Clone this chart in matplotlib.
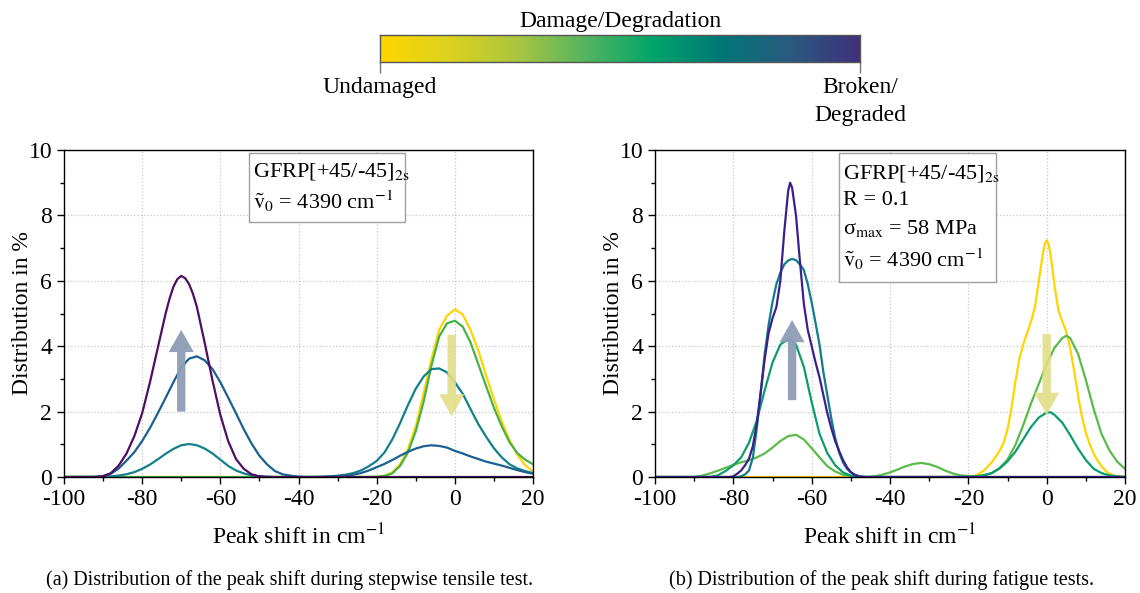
import numpy as np
import matplotlib
matplotlib.use('Agg')
import matplotlib.pyplot as plt
from matplotlib.colors import LinearSegmentedColormap
from matplotlib.patches import Rectangle

plt.rcParams['font.family'] = ['Liberation Serif', 'DejaVu Serif']
plt.rcParams['mathtext.fontset'] = 'stix'
plt.rcParams['axes.unicode_minus'] = False

# ---- (a) stepwise tensile test ----
a_yellow_x = [-100, -22, -20, -18, -16, -14, -12, -10, -8, -6, -4, -2, 0, 2, 4, 6, 8, 10, 12, 14, 16, 18, 20]
a_yellow_y = [0, 0, 0.01, 0.04, 0.14, 0.39, 0.85, 1.55, 2.55, 3.6, 4.5, 4.93, 5.13, 4.97, 4.5, 3.87, 3.1, 2.38, 1.7, 1.13, 0.68, 0.36, 0.17]

a_green_x = [-100, -22, -20, -18, -16, -14, -12, -10, -8, -6, -4, -2, 0, 2, 4, 6, 8, 10, 12, 14, 16, 18, 20]
a_green_y = [0, 0, 0.005, 0.03, 0.11, 0.34, 0.75, 1.4, 2.3, 3.4, 4.3, 4.7, 4.78, 4.6, 4.12, 3.45, 2.78, 2.12, 1.55, 1.06, 0.73, 0.53, 0.39]

a_teal_x = [-100, -90, -88, -86, -84, -82, -80, -78, -76, -74, -72, -70, -68, -66, -64, -62, -60, -58, -56, -54,
            -52, -50, -48, -46, -36, -34, -32, -30, -28, -26, -24, -22, -20, -18, -16, -14, -12, -10, -8, -6,
            -4, -2, 0, 2, 4, 6, 8, 10, 12, 14, 16, 18, 20]
a_teal_y = [0, 0.01, 0.02, 0.045, 0.085, 0.15, 0.25, 0.38, 0.54, 0.71, 0.86, 0.97, 1.01, 0.97, 0.87, 0.72, 0.53, 0.34, 0.2, 0.11,
            0.05, 0.02, 0.01, 0, 0, 0.01, 0.02, 0.04, 0.07, 0.12, 0.2, 0.33, 0.49, 0.75, 1.15, 1.65, 2.2, 2.7, 3.07, 3.3,
            3.32, 3.2, 2.9, 2.55, 2.08, 1.62, 1.23, 0.88, 0.6, 0.39, 0.26, 0.18, 0.12]

a_blue_x = [-100, -92, -90, -88, -86, -84, -82, -80, -78, -76, -74, -72, -70, -68, -66, -64, -62, -60, -58, -56,
            -54, -52, -50, -48, -46, -44, -42, -40, -38, -34, -32, -30, -28, -26, -24, -22, -20, -18, -16, -14,
            -12, -10, -8, -6, -4, -2, 0, 2, 4, 6, 8, 10, 12, 14, 16, 18, 20]
a_blue_y = [0, 0, 0.03, 0.1, 0.26, 0.5, 0.76, 1.1, 1.5, 1.95, 2.42, 2.9, 3.35, 3.62, 3.69, 3.57, 3.3, 2.9, 2.43, 1.95,
            1.46, 1.02, 0.65, 0.38, 0.18, 0.08, 0.04, 0.01, 0, 0, 0.01, 0.02, 0.04, 0.07, 0.12, 0.2, 0.3, 0.4, 0.52, 0.65,
            0.77, 0.87, 0.94, 0.97, 0.95, 0.9, 0.8, 0.72, 0.63, 0.55, 0.47, 0.41, 0.35, 0.28, 0.21, 0.15, 0.1]

a_purple_x = [-100, -92, -90, -88, -86, -84, -82, -80, -78, -76, -74, -73, -72, -71, -70, -69, -68, -67, -66, -64,
              -62, -60, -58, -56, -54, -52, -50, -48, 20]
a_purple_y = [0, 0, 0.02, 0.12, 0.35, 0.72, 1.25, 1.95, 2.9, 3.95, 5.0, 5.45, 5.82, 6.05, 6.15, 6.08, 5.9, 5.6, 5.2, 4.1,
              2.95, 1.9, 1.1, 0.55, 0.25, 0.08, 0.02, 0, 0]

# ---- (b) fatigue tests ----
b_yellow_x = [-100, -20, -18, -16, -14, -12, -11, -10, -9, -8, -7, -6, -5, -4, -3, -2, -1, -0.5, 0, 0.5, 1, 2, 3, 4,
              5, 6, 7, 8, 9, 10, 11, 12, 13, 14, 15, 16, 17, 18, 20]
b_yellow_y = [0, 0, 0.05, 0.2, 0.45, 0.8, 1.05, 1.45, 2.1, 2.9, 3.6, 4.05, 4.4, 4.75, 5.2, 6.0, 6.8, 7.12, 7.24, 7.12, 6.8, 5.85, 5.1, 4.75,
              4.45, 3.95, 3.25, 2.5, 1.85, 1.35, 1.0, 0.72, 0.5, 0.33, 0.2, 0.1, 0.05, 0.02, 0]

b_lgreen_x = [-100, -90, -88, -86, -84, -82, -80, -78, -76, -74, -72, -70, -68, -66, -64, -62, -60, -58, -56, -54,
              -52, -50, -48, -46, -44, -42, -40, -38, -36, -34, -32, -30, -28, -26, -24, -22, -20, -18, -16, -14,
              -12, -10, -8, -6, -4, -2, 0, 2, 4, 5, 6, 8, 10, 12, 14, 16, 18, 20]
b_lgreen_y = [0, 0, 0.04, 0.11, 0.19, 0.28, 0.37, 0.45, 0.51, 0.6, 0.72, 0.9, 1.1, 1.25, 1.29, 1.15, 0.88, 0.6, 0.33, 0.17,
              0.07, 0.03, 0.01, 0, 0.02, 0.07, 0.14, 0.23, 0.33, 0.4, 0.43, 0.39, 0.31, 0.2, 0.11, 0.05, 0.03, 0.02, 0.04, 0.12,
              0.28, 0.53, 0.98, 1.58, 2.25, 2.85, 3.46, 3.95, 4.25, 4.32, 4.25, 3.77, 2.97, 2.08, 1.32, 0.82, 0.47, 0.25]

b_green_x = [-100, -86, -84, -82, -80, -78, -76, -74, -72, -70, -68, -66, -64, -62, -60, -58, -56, -54, -52, -50,
             -48, -20, -18, -16, -14, -12, -10, -8, -6, -4, -2, 0, 1, 2, 4, 6, 8, 10, 12, 14, 16, 18, 20]
b_green_y = [0, 0, 0.05, 0.18, 0.36, 0.6, 1.05, 1.73, 2.65, 3.5, 4.05, 4.22, 4.05, 3.37, 2.29, 1.32, 0.73, 0.36, 0.14, 0.04,
             0, 0, 0.02, 0.06, 0.12, 0.26, 0.48, 0.77, 1.15, 1.53, 1.82, 1.97, 1.98, 1.9, 1.66, 1.28, 0.87, 0.52, 0.25, 0.12, 0.05, 0.02, 0]

b_teal_x = [-100, -79, -78, -77, -76, -75, -74, -73, -72, -71, -70, -69, -68, -67, -66, -65, -64, -63, -62, -61,
            -60, -59, -58, -57, -56, -55, -54, -53, -52, -51, -50, -49, -48, -46, 20]
b_teal_y = [0, 0, 0.02, 0.08, 0.2, 0.6, 1.5, 2.6, 3.75, 4.65, 5.35, 5.9, 6.25, 6.5, 6.62, 6.67, 6.63, 6.5, 6.33, 5.9,
            5.34, 4.7, 4.05, 3.2, 2.5, 1.8, 1.2, 0.75, 0.45, 0.25, 0.14, 0.07, 0.03, 0, 0]

b_purple_x = [-100, -81, -80, -79, -78, -77, -76, -75, -74, -73, -72, -71, -70, -69, -68, -67, -66, -65.5, -65, -64,
              -63, -62, -61, -60, -59, -58, -57, -56, -55, -54, -53, -52, -51, -50, -49, -48, -47, 20]
b_purple_y = [0, 0, 0.02, 0.1, 0.2, 0.36, 0.56, 0.95, 1.65, 2.6, 3.6, 4.4, 4.85, 5.2, 6.0, 7.5, 8.75, 9.0, 8.85, 8.0,
              6.6, 5.3, 4.5, 4.0, 3.5, 3.05, 2.5, 1.95, 1.5, 1.1, 0.8, 0.52, 0.3, 0.15, 0.06, 0.02, 0, 0]

a_curves = [(a_yellow_x, a_yellow_y, '#ffd400'),
            (a_green_x, a_green_y, '#45b24a'),
            (a_teal_x, a_teal_y, '#13808a'),
            (a_blue_x, a_blue_y, '#1b6090'),
            (a_purple_x, a_purple_y, '#4c0f62')]
b_curves = [(b_yellow_x, b_yellow_y, '#ffd400'),
            (b_lgreen_x, b_lgreen_y, '#5bbb4a'),
            (b_green_x, b_green_y, '#0c9d6c'),
            (b_teal_x, b_teal_y, '#0e7d89'),
            (b_purple_x, b_purple_y, '#3b1f8e')]

a_box_lines = ['GFRP[+45/-45]$_{\\mathrm{2s}}$', '$\\tilde{\\mathrm{v}}_0$ = 4390 cm$^{\\mathrm{-1}}$']
b_box_lines = ['GFRP[+45/-45]$_{\\mathrm{2s}}$', 'R = 0.1', 'σ$_{\\mathrm{max}}$ = 58 MPa',
               '$\\tilde{\\mathrm{v}}_0$ = 4390 cm$^{\\mathrm{-1}}$']

cmap_colors = ['#ffd600', '#dcd21e', '#a9c640', '#54b460', '#00a46a', '#007676', '#2a5a80', '#40307a']


def style_axes(ax):
    ax.set_xlim(-100, 20)
    ax.set_ylim(0, 10)
    ax.set_xticks(np.arange(-100, 21, 20))
    ax.set_xticks(np.arange(-90, 20, 10), minor=True)
    ax.set_yticks(np.arange(0, 11, 2))
    ax.set_yticks(np.arange(1, 10, 2), minor=True)
    ax.tick_params(which='both', direction='out', labelsize=17, top=False, right=False)
    ax.tick_params(which='major', length=5, width=1)
    ax.tick_params(which='minor', length=3, width=1)
    ax.grid(True, which='major', ls=':', color='#c8c8c8', lw=0.9)
    ax.set_axisbelow(True)
    ax.set_xlabel('Peak shift in cm$^{\\mathrm{-1}}$', fontsize=17, labelpad=10)
    ax.set_ylabel('Distribution in %', fontsize=17, labelpad=-3)
    for s in ax.spines.values():
        s.set_linewidth(1.0)


def draw_box(ax, x0, x1, y0, y1, lines, ys):
    ax.add_patch(Rectangle((x0, y0), x1 - x0, y1 - y0, fc='white', ec='#a0a0a0', lw=1.0, zorder=3))
    for t, y in zip(lines, ys):
        ax.text(x0 + 1.0, y, t, fontsize=16, va='center', ha='left', zorder=4)


def arrow(ax, x, y_tail, y_tip, color, alpha):
    ax.annotate('', xy=(x, y_tip), xytext=(x, y_tail), zorder=5,
                arrowprops=dict(arrowstyle='simple,head_width=1.8,head_length=1.6,tail_width=0.6',
                                fc=color, ec='none', alpha=alpha, shrinkA=0, shrinkB=0,
                                mutation_scale=10))


fig = plt.figure(figsize=(11.4, 5.93), dpi=100)

ax1 = fig.add_axes([64 / 1140, 116 / 593, 469 / 1140, 327 / 593])
ax2 = fig.add_axes([655 / 1140, 116 / 593, 470 / 1140, 327 / 593])

for ax, curves in ((ax1, a_curves), (ax2, b_curves)):
    for x, y, c in curves:
        ax.plot(x, y, color=c, lw=1.6, zorder=2)
    style_axes(ax)

draw_box(ax1, -52.7, -12.7, 7.8, 9.9, a_box_lines, [9.33, 8.42])
draw_box(ax2, -53.0, -12.9, 5.95, 9.9, b_box_lines, [9.28, 8.45, 7.6, 6.65])

arrow(ax1, -70, 2.0, 4.5, '#8d9cb5', 0.95)
arrow(ax1, -0.8, 4.35, 1.85, '#e2de88', 0.9)
arrow(ax2, -65, 2.35, 4.8, '#8d9cb5', 0.95)
arrow(ax2, 0, 4.37, 1.9, '#e2de88', 0.9)

# colour scale on top
cax = fig.add_axes([380 / 1140, (593 - 62) / 593, 480 / 1140, 27 / 593])
cmap = LinearSegmentedColormap.from_list('dmg', cmap_colors)
cax.imshow(np.linspace(0, 1, 256)[None, :], cmap=cmap, aspect='auto', extent=[0, 1, 0, 1])
cax.set_yticks([])
cax.set_xticks([0, 1])
cax.set_xticklabels(['Undamaged', 'Broken/\nDegraded'], fontsize=17, linespacing=1.4)
cax.tick_params(axis='x', direction='out', length=8, width=1, color='#777777', pad=3)
for s in cax.spines.values():
    s.set_color('#555555')
    s.set_linewidth(1.0)
cax.set_title('Damage/Degradation', fontsize=17, pad=6)

fig.text(290 / 1140, 1 - 580 / 593, '(a) Distribution of the peak shift during stepwise tensile test.',
         fontsize=14.5, ha='center', va='center')
fig.text(882 / 1140, 1 - 580 / 593, '(b) Distribution of the peak shift during fatigue tests.',
         fontsize=14.5, ha='center', va='center')

fig.savefig('out.png', dpi=100)
